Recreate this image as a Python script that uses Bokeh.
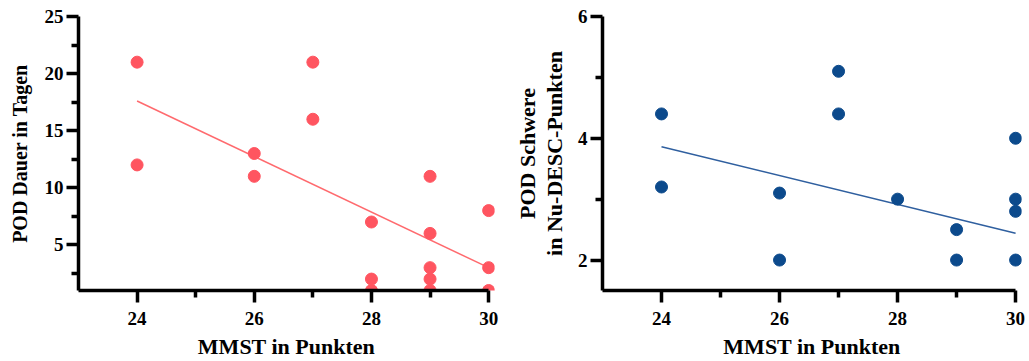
from bokeh.plotting import figure
from bokeh.layouts import row
from bokeh.models import Range1d, FixedTicker
from bokeh.embed import file_html
from bokeh.resources import INLINE

# ---- data ----
left_mmst = [24, 24, 26, 26, 27, 27, 28, 28, 28, 29, 29, 29, 29, 29, 30, 30, 30]
left_dauer = [21, 12, 13, 11, 21, 16, 7, 2, 1, 11, 6, 3, 2, 1, 8, 3, 1]
left_fit_x = [24, 30]
left_fit_y = [17.6, 3.0]

right_mmst = [24, 24, 26, 26, 27, 27, 28, 29, 29, 30, 30, 30, 30]
right_schwere = [4.4, 3.2, 3.1, 2.0, 5.1, 4.4, 3.0, 2.5, 2.0, 4.0, 3.0, 2.8, 2.0]
right_fit_x = [24, 30]
right_fit_y = [3.86, 2.44]

x_ticks = [24, 26, 28, 30]
x_minor = [25, 27, 29]
left_y_ticks = [5, 10, 15, 20, 25]
left_y_minor = [2.5, 7.5, 12.5, 17.5, 22.5]
right_y_ticks = [2, 4, 6]
right_y_minor = [3, 5]

x_label = "MMST in Punkten"
left_y_label = "POD Dauer in Tagen"
right_y_label = "POD Schwere\nin Nu-DESC-Punkten"

FONT = "Liberation Serif"
RED = "#ff5560"
RED_LINE = "#ff6a6e"
BLUE = "#0c4a8c"
BLUE_LINE = "#2f5f9f"


def style_axis(ax, ticks, minor, bounds, label, label_size, lab_standoff, tick_standoff, lh=1.0):
    ax.ticker = FixedTicker(ticks=ticks, minor_ticks=minor)
    if bounds is not None:
        ax.bounds = bounds
    ax.axis_label = label
    ax.axis_line_width = 3.5
    ax.axis_line_color = "black"
    ax.major_tick_line_width = 3.5
    ax.minor_tick_line_width = 3.5
    ax.major_tick_line_color = "black"
    ax.minor_tick_line_color = "black"
    ax.major_tick_out = 12
    ax.major_tick_in = 0
    ax.minor_tick_out = 7
    ax.minor_tick_in = 0
    ax.major_label_text_font = FONT
    ax.major_label_text_font_style = "bold"
    ax.major_label_text_font_size = "19px"
    ax.major_label_text_color = "black"
    ax.major_label_text_line_height = 1.0
    ax.major_label_standoff = tick_standoff
    ax.axis_label_text_font = FONT
    ax.axis_label_text_font_style = "bold"
    ax.axis_label_text_font_size = label_size
    ax.axis_label_text_color = "black"
    ax.axis_label_standoff = lab_standoff
    ax.axis_label_text_line_height = lh


def make_fig(width, height, xr, yr, mb):
    p = figure(width=width, height=height, x_range=Range1d(*xr), y_range=Range1d(*yr),
               output_backend="svg", toolbar_location=None,
               min_border_left=mb[0], min_border_right=mb[1],
               min_border_top=mb[2], min_border_bottom=mb[3])
    p.outline_line_color = None
    p.grid.grid_line_color = None
    p.background_fill_color = "white"
    p.border_fill_color = "white"
    return p


# ---- left chart ----
p1 = make_fig(508, 361, (23, 30.1), (1, 25), (78, 14, 16, 71))
p1.line(left_fit_x, left_fit_y, line_width=1.5, line_color=RED_LINE)
p1.scatter(left_mmst, left_dauer, size=12, marker="circle", fill_color=RED, line_color=RED)
style_axis(p1.xaxis[0], x_ticks, x_minor, (23, 30), x_label, "22px", 6, 9)
style_axis(p1.yaxis[0], left_y_ticks, left_y_minor, None, left_y_label, "20px", 11, 3)

# ---- right chart ----
p2 = make_fig(521, 361, (23, 30.1), (1.5, 6), (94, 8, 15, 71))
p2.line(right_fit_x, right_fit_y, line_width=1.5, line_color=BLUE_LINE)
p2.scatter(right_mmst, right_schwere, size=12, marker="circle", fill_color=BLUE, line_color=BLUE)
style_axis(p2.xaxis[0], x_ticks, x_minor, (23, 30), x_label, "22px", 6, 9)
style_axis(p2.yaxis[0], right_y_ticks, right_y_minor, None, right_y_label, "22px", 8, 3, 1.1)

layout = row(p1, p2)
open("out.html", "w").write(file_html(layout, INLINE))
